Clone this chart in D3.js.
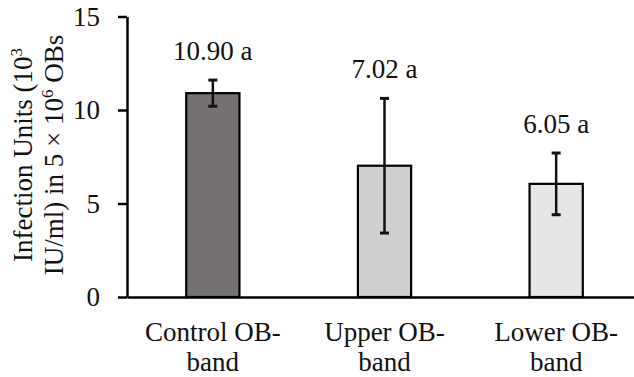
<!DOCTYPE html>
<html>
<head>
<meta charset="utf-8">
<script src="https://cdn.jsdelivr.net/npm/d3@7"></script>
<style>
  html, body { margin: 0; padding: 0; background: #fff; }
  svg { display: block; }
  svg text { font-family: "Times New Roman", "Liberation Serif", Tinos, "DejaVu Serif", serif !important; fill: #111; }
</style>
</head>
<body>
<svg id="chart" width="634" height="377"></svg>
<script>
// Infectivity of OB fractions (mean ± error)
const categories = ["Control OB-band", "Upper OB-band", "Lower OB-band"];
const means = [10.90, 7.02, 6.05];
const errors = [0.70, 3.60, 1.65];
const letters = ["a", "a", "a"];
const fills = ["#767171", "#d0cece", "#e7e6e6"];
const yTicks = [0, 5, 10, 15];

const svg = d3.select("#chart");
const fontSize = 27;
const serif = "'Times New Roman', 'Liberation Serif', serif";

const x = d3.scaleBand()
  .domain(categories)
  .range([127, 642])
  .paddingInner(0.69)
  .paddingOuter(0.345);

const y = d3.scaleLinear()
  .domain([0, 15])
  .range([297, 16.5]);

// Y axis
const yAxis = svg.append("g")
  .attr("transform", `translate(${x.range()[0]},0)`)
  .call(d3.axisLeft(y).tickValues(yTicks).tickSize(9).tickSizeOuter(0).tickPadding(18));
yAxis.attr("font-family", serif);
yAxis.select(".domain").attr("stroke", "#000").attr("stroke-width", 2.5);
yAxis.selectAll(".tick line").attr("stroke", "#000").attr("stroke-width", 2.5);
yAxis.selectAll(".tick text")
  .attr("font-size", fontSize)
  .attr("fill", "#111");

// Bars
svg.append("g").selectAll("rect")
  .data(categories)
  .join("rect")
  .attr("x", d => x(d))
  .attr("y", (d, i) => y(means[i]))
  .attr("width", x.bandwidth())
  .attr("height", (d, i) => y(0) - y(means[i]))
  .attr("fill", (d, i) => fills[i])
  .attr("stroke", "#000")
  .attr("stroke-width", 2.2);

// X axis (baseline only, labels wrapped below)
const xAxis = svg.append("g")
  .attr("transform", `translate(0,${y(0)})`)
  .call(d3.axisBottom(x).tickSize(0).tickSizeOuter(0).tickFormat(""));
xAxis.attr("font-family", serif);
xAxis.select(".domain").attr("stroke", "#000").attr("stroke-width", 2.5);

xAxis.selectAll(".tick").each(function (d) {
  const parts = d.split("OB-");
  const t = d3.select(this).select("text")
    .attr("y", 0)
    .attr("dy", null)
    .attr("font-size", fontSize)
    .attr("fill", "#111");
  t.append("tspan").attr("x", 0).attr("y", 44).text(parts[0] + "OB-");
  t.append("tspan").attr("x", 0).attr("y", 74).text(parts[1]);
});

// Error bars
const eb = svg.append("g").attr("stroke", "#111").attr("stroke-width", 2.5);
categories.forEach((c, i) => {
  const cx = x(c) + x.bandwidth() / 2;
  const top = y(means[i] + errors[i]);
  const bot = y(means[i] - errors[i]);
  eb.append("line").attr("x1", cx).attr("x2", cx).attr("y1", top).attr("y2", bot);
  eb.append("line").attr("x1", cx - 4.5).attr("x2", cx + 4.5).attr("y1", top).attr("y2", top).attr("stroke-width", 3);
  eb.append("line").attr("x1", cx - 4.5).attr("x2", cx + 4.5).attr("y1", bot).attr("y2", bot).attr("stroke-width", 3);
});

// Value labels with significance letters
svg.append("g").attr("font-family", serif).selectAll("text")
  .data(categories)
  .join("text")
  .attr("x", d => x(d) + x.bandwidth() / 2)
  .attr("y", (d, i) => y(means[i] + errors[i]) - 20)
  .attr("text-anchor", "middle")
  .attr("font-size", fontSize)
  .text((d, i) => means[i].toFixed(2) + " " + letters[i]);

// Y axis title (two lines, rotated)
const title = svg.append("text")
  .attr("transform", "translate(32,155) rotate(-90)")
  .attr("text-anchor", "middle")
  .attr("font-family", serif)
  .attr("font-size", fontSize);
const l1 = title.append("tspan").attr("x", 0).attr("y", 0);
l1.append("tspan").text("Infection Units (10");
l1.append("tspan").attr("font-size", 17).attr("dy", -10).text("3");
const l2 = title.append("tspan").attr("x", 0).attr("y", 31);
l2.append("tspan").text("IU/ml) in 5 × 10");
l2.append("tspan").attr("font-size", 17).attr("dy", -10).text("6");
l2.append("tspan").attr("dy", 10).text(" OBs");
</script>
</body>
</html>
